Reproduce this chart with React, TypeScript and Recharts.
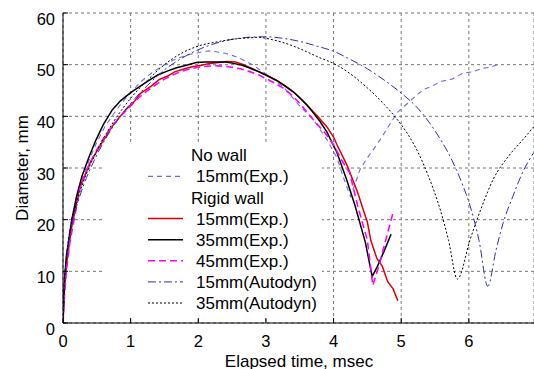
import React from "react";
import { LineChart, Line, XAxis, YAxis, CartesianGrid, Legend } from "recharts";

// Elapsed time (msec), diameter (mm) pairs
const noWall15Exp = [
  [0, 0], [0.02, 7], [0.05, 12], [0.1, 17.5], [0.2, 23.5], [0.3, 28.5], [0.4, 32], [0.5, 35],
  [0.62, 38], [0.75, 40.5], [0.88, 42.8], [1.0, 44.5], [1.12, 46.3], [1.25, 47.8], [1.38, 49],
  [1.5, 50], [1.62, 50.8], [1.75, 51.5], [1.88, 52], [2.0, 52.3], [2.1, 52.6], [2.2, 52.7],
  [2.3, 52.4], [2.4, 52.2], [2.5, 51.8], [2.6, 51.3], [2.8, 50], [3.0, 48.2], [3.25, 45.8],
  [3.5, 42], [3.7, 39.4], [3.9, 35.5], [4.05, 32], [4.15, 28], [4.25, 24.5], [4.32, 27],
  [4.39, 29.7], [4.5, 32], [4.6, 33.8], [4.69, 35.5], [4.8, 37.8], [4.94, 40.7], [5.05, 42],
  [5.15, 43.2], [5.33, 45.2], [5.45, 45.8], [5.6, 46.8], [5.75, 47.2], [5.92, 48.4], [6.05, 48.6],
  [6.2, 49.3], [6.32, 49.5], [6.42, 50],
];
const rigid15Exp = [
  [0, 0], [0.02, 6], [0.05, 11], [0.12, 18], [0.24, 26], [0.4, 31], [0.58, 35], [0.75, 38.5],
  [0.93, 41.3], [1.05, 42.8], [1.15, 44.5], [1.3, 45.8], [1.42, 47.1], [1.55, 47.8], [1.65, 48.6],
  [1.8, 49.2], [1.91, 49.6], [2.05, 49.9], [2.15, 50.2], [2.3, 50.4], [2.42, 50.6], [2.55, 50.5],
  [2.65, 50.1], [2.8, 49.2], [3.0, 48], [3.15, 47], [3.25, 46.2], [3.4, 44.8], [3.5, 43.6],
  [3.62, 42], [3.75, 40.2], [3.9, 38], [4.0, 36], [4.05, 34.5], [4.2, 30.5], [4.35, 25.5],
  [4.45, 21.5], [4.5, 19.5], [4.55, 16], [4.64, 12.5], [4.72, 11], [4.8, 8], [4.88, 6.6], [4.95, 4.3],
];
const rigid35Exp = [
  [0, 0], [0.02, 8], [0.05, 13], [0.13, 20], [0.2, 24.5], [0.28, 28.4], [0.38, 32], [0.49, 35.5],
  [0.6, 38.5], [0.73, 41.3], [0.85, 43], [1.0, 44.6], [1.17, 46.1], [1.3, 47.2], [1.4, 48],
  [1.55, 48.8], [1.68, 49.4], [1.85, 50], [1.97, 50.4], [2.1, 50.5], [2.25, 50.5], [2.4, 50.5],
  [2.5, 50.3], [2.65, 49.9], [2.75, 49.4], [2.9, 48.6], [3.0, 48], [3.15, 47], [3.25, 46.2],
  [3.4, 44.8], [3.5, 43.6], [3.6, 42.3], [3.7, 40.7], [3.8, 39], [3.9, 37], [4.05, 33],
  [4.2, 27.5], [4.32, 22.6], [4.47, 15.6], [4.57, 9], [4.65, 11], [4.75, 14], [4.85, 17.2],
];
const rigid45Exp = [
  [0, 0], [0.02, 5], [0.05, 10], [0.1, 15.5], [0.25, 26], [0.38, 30.5], [0.5, 33.5], [0.62, 36.2],
  [0.75, 38.5], [0.88, 40.4], [1.0, 42], [1.12, 43.6], [1.25, 45], [1.38, 46.2], [1.5, 47.2],
  [1.62, 48], [1.75, 48.7], [1.88, 49.2], [2.0, 49.5], [2.12, 49.7], [2.25, 49.8], [2.38, 49.7],
  [2.5, 49.5], [2.62, 49.2], [2.75, 48.7], [2.88, 48.1], [3.0, 47.3], [3.12, 46.5], [3.25, 45.5],
  [3.38, 44.1], [3.5, 42.5], [3.62, 40.6], [3.75, 38.6], [3.88, 36.7], [4.0, 34.5], [4.12, 31.5],
  [4.24, 29], [4.35, 23], [4.5, 16], [4.58, 7.3], [4.68, 11.5], [4.78, 16.5], [4.88, 21.4],
];
const autodyn15 = [
  [0, 0], [0.02, 7], [0.05, 12], [0.1, 17], [0.2, 22.5], [0.3, 26.5], [0.5, 32.5], [0.75, 38.2],
  [1.0, 42.5], [1.25, 46], [1.5, 49], [1.75, 51.2], [2.0, 52.9], [2.25, 54.1], [2.5, 54.9],
  [2.75, 55.3], [3.0, 55.4], [3.25, 55.1], [3.5, 54.5], [3.75, 53.6], [4.0, 52.6], [4.25, 51],
  [4.5, 49.2], [4.75, 47], [5.0, 44.5], [5.25, 41.5], [5.5, 37.2], [5.75, 31.5], [5.9, 27],
  [6.02, 22.6], [6.15, 16], [6.28, 7.1], [6.4, 14], [6.51, 19.5], [6.65, 24.5], [6.8, 29.3], [6.96, 33],
];
const autodyn35 = [
  [0, 0], [0.02, 7.5], [0.05, 12.5], [0.1, 17.8], [0.2, 23.3], [0.3, 27.3], [0.5, 33.3], [0.75, 39],
  [1.0, 43.5], [1.25, 47], [1.5, 50], [1.75, 52.2], [2.0, 53.6], [2.27, 54.4], [2.5, 54.9],
  [2.75, 55.2], [2.9, 55.3], [3.0, 55.1], [3.25, 54.3], [3.5, 53.1], [3.75, 51.6], [4.05, 49.9],
  [4.24, 48.3], [4.5, 45.5], [4.75, 42.3], [4.94, 39.4], [5.1, 36.5], [5.25, 33], [5.4, 28.5],
  [5.58, 21.8], [5.7, 16], [5.83, 8.5], [6.02, 16.2], [6.2, 22.8], [6.36, 27.8], [6.6, 32.5],
  [6.8, 35.5], [6.96, 38],
];

const xTicks = [0, 1, 2, 3, 4, 5, 6];
const yTicks = [0, 10, 20, 30, 40, 50, 60];

const FONT = '"Liberation Sans", Arial, Helvetica, sans-serif';

const toPts = (arr: number[][]) => arr.map(([t, d]) => ({ t, d }));

const series = [
  { key: "nw15", name: "15mm(Exp.)", data: noWall15Exp, color: "#6b6bec", dash: "5 4", width: 1.1, curve: "linear" },
  { key: "rw15", name: "15mm(Exp.)", data: rigid15Exp, color: "#e00000", dash: undefined, width: 1.5, curve: "linear" },
  { key: "rw35", name: "35mm(Exp.)", data: rigid35Exp, color: "#000000", dash: undefined, width: 1.5, curve: "linear" },
  { key: "rw45", name: "45mm(Exp.)", data: rigid45Exp, color: "#ff00ff", dash: "7 4", width: 1.6, curve: "linear" },
  { key: "ad15", name: "15mm(Autodyn)", data: autodyn15, color: "#3030b0", dash: "8 3 2 3", width: 1, curve: "monotone" },
  { key: "ad35", name: "35mm(Autodyn)", data: autodyn35, color: "#000000", dash: "2 2", width: 1, curve: "monotone" },
];

const legendRows = [
  { heading: "No wall" },
  { item: 0 },
  { heading: "Rigid wall" },
  { item: 1 },
  { item: 2 },
  { item: 3 },
  { item: 4 },
  { item: 5 },
];

function LegendBox() {
  return (
    <svg width={218} height={174} style={{ display: "block" }}>
      <rect x={0} y={0} width={218} height={174} fill="#fff" />
      {legendRows.map((r, i) => {
        const cy = 11.3 + 21.1 * i;
        if (r.heading) {
          return (
            <text key={i} x={87} y={cy + 6} fontSize={17} fontFamily={FONT} fill="#000">{r.heading}</text>
          );
        }
        const s = series[r.item as number];
        return (
          <g key={i}>
            <line x1={44} x2={79} y1={cy} y2={cy} stroke={s.color} strokeWidth={s.width} strokeDasharray={s.dash} />
            <text x={92} y={cy + 6} fontSize={17} fontFamily={FONT} fill="#000">{s.name}</text>
          </g>
        );
      })}
    </svg>
  );
}

// eslint-disable-next-line @typescript-eslint/no-explicit-any
const YTick = (p: any) => (
  <text x={p.x} y={p.y} dy={11.5} textAnchor="end" fontSize={16.5} fontFamily={FONT} fill="#000">{p.payload.value}</text>
);
// eslint-disable-next-line @typescript-eslint/no-explicit-any
const XTick = (p: any) => (
  <text x={p.x} y={p.y} dy={12} textAnchor="middle" fontSize={16.5} fontFamily={FONT} fill="#000">{p.payload.value}</text>
);

export default function App() {
  return (
    <div style={{ position: "absolute", left: 0, top: 0, background: "#fff" }}>
      <LineChart width={534} height={369} margin={{ top: 13, right: 0, bottom: 0, left: 0 }}>
        <CartesianGrid stroke="#777" strokeDasharray="3 3" strokeWidth={1} />
        <XAxis dataKey="t" type="number" domain={[0, 6.963]} ticks={xTicks} allowDataOverflow
          height={46} tickSize={-5} tickMargin={17} stroke="#000" tick={XTick}
          label={{
            content: () => (
              <text x={299} y={366.5} textAnchor="middle" fontSize={17} fontFamily={FONT} fill="#000">Elapsed time, msec</text>
            ),
          }} />
        <XAxis xAxisId="top" orientation="top" dataKey="t" type="number" domain={[0, 6.963]} ticks={xTicks}
          allowDataOverflow height={0} tickSize={-5} tick={false} stroke="#000" />
        <YAxis type="number" domain={[0, 60]} ticks={yTicks} width={63} tickSize={-5} tickMargin={13}
          stroke="#000" tick={YTick}
          label={{
            content: () => (
              <text x={27.5} y={168} transform="rotate(-90 27.5 168)" textAnchor="middle" fontSize={17} fontFamily={FONT} fill="#000">Diameter, mm</text>
            ),
          }} />
        <Legend layout="vertical" align="center" verticalAlign="middle"
          wrapperStyle={{ left: 104, top: 144, width: 218, height: 174, right: "auto", bottom: "auto" }}
          content={() => <LegendBox />} />
        {series.map((s) => (
          <Line key={s.key} data={toPts(s.data)} dataKey="d" name={s.name} type={s.curve as "linear" | "monotone"}
            stroke={s.color} strokeWidth={s.width} strokeDasharray={s.dash} dot={false}
            activeDot={false} isAnimationActive={false} />
        ))}
      </LineChart>
    </div>
  );
}
